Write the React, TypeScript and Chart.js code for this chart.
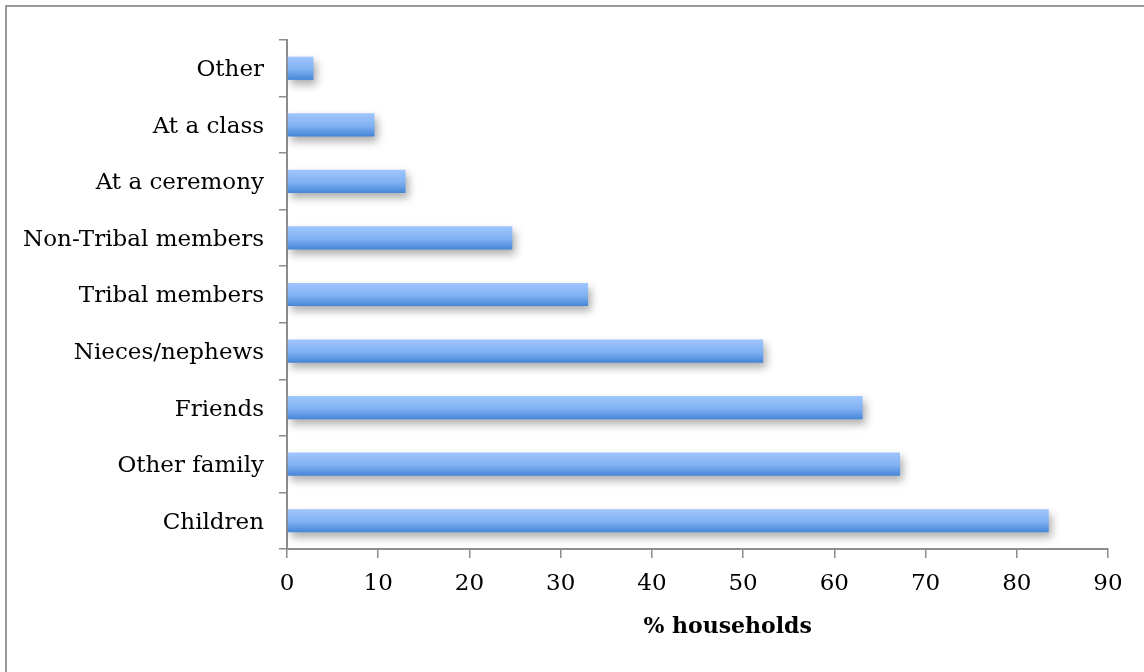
import React, { useEffect, useRef } from "react";
import { Chart, registerables } from "chart.js";

Chart.register(...registerables);

const categories: string[] = [
  "Other",
  "At a class",
  "At a ceremony",
  "Non-Tribal members",
  "Tribal members",
  "Nieces/nephews",
  "Friends",
  "Other family",
  "Children",
];
const householdPct: number[] = [2.9, 9.6, 13.0, 24.7, 33.0, 52.2, 63.1, 67.2, 83.5];
const xTickMin = 0;
const xTickMax = 90;
const xTickStep = 10;
const xAxisTitle = "% households";

const FONT = "'DejaVu Serif', 'Liberation Serif', serif";

export default function App() {
  const ref = useRef<HTMLCanvasElement | null>(null);

  useEffect(() => {
    if (!ref.current) return;
    const shadowPlugin = {
      id: "barShadow",
      beforeDatasetsDraw(chart: any) {
        const c = chart.ctx;
        c.save();
        c.shadowColor = "rgba(0,0,0,0.32)";
        c.shadowBlur = 8;
        c.shadowOffsetX = 3;
        c.shadowOffsetY = 5;
      },
      afterDatasetsDraw(chart: any) {
        chart.ctx.restore();
      },
    };
    const titlePlugin = {
      id: "xTitle",
      afterDraw(chart: any) {
        const c = chart.ctx;
        const xs = chart.scales.x;
        c.save();
        c.font = `bold 22px ${FONT}`;
        c.fillStyle = "#000";
        c.textAlign = "center";
        c.textBaseline = "middle";
        c.fillText(xAxisTitle, xs.getPixelForValue(48.3), 627);
        c.restore();
      },
    };

    const chart = new Chart(ref.current, {
      type: "bar",
      data: {
        labels: categories,
        datasets: [
          {
            data: householdPct,
            backgroundColor: (ctx: any) => {
              const ch = ctx.chart;
              const ys = ch.scales?.y;
              if (!ys || ctx.dataIndex === undefined) return "#7aa9ee";
              const yc = ys.getPixelForValue(ctx.dataIndex);
              const band = Math.abs(ys.getPixelForValue(1) - ys.getPixelForValue(0));
              if (!isFinite(yc) || !isFinite(band) || band <= 0) return "#7aa9ee";
              const h = band * 0.41;
              const g = ch.ctx.createLinearGradient(0, yc - h / 2, 0, yc + h / 2);
              g.addColorStop(0, "#a0c6fd");
              g.addColorStop(0.55, "#80b1f2");
              g.addColorStop(1, "#4485d8");
              return g;
            },
            borderWidth: 0,
            barPercentage: 0.41,
            categoryPercentage: 1,
          },
        ],
      },
      options: {
        indexAxis: "y",
        animation: false,
        responsive: false,
        maintainAspectRatio: false,
        layout: { padding: { left: 0, right: 36, top: 40, bottom: 0 } },
        plugins: { legend: { display: false }, tooltip: { enabled: false } },
        scales: {
          x: {
            type: "linear",
            min: xTickMin,
            max: xTickMax,
            ticks: {
              stepSize: xTickStep,
              color: "#000",
              font: { family: FONT, size: 23 },
              padding: 12,
            },
            grid: {
              display: true,
              drawOnChartArea: false,
              drawTicks: true,
              tickLength: 9,
              color: "#8c8c8c",
              lineWidth: 1.5,
            },
            border: { display: true, color: "#8c8c8c", width: 2 },
            title: { display: false },
            afterFit: (s: any) => {
              s.height = 123;
            },
          },
          y: {
            type: "category",
            ticks: {
              color: "#000",
              font: { family: FONT, size: 23 },
              padding: 15,
              labelOffset: 2,
            },
            grid: {
              display: true,
              offset: true,
              drawOnChartArea: false,
              drawTicks: true,
              tickLength: 8,
              color: "#8c8c8c",
              lineWidth: 1.5,
            },
            border: { display: true, color: "#8c8c8c", width: 2 },
            afterFit: (s: any) => {
              s.width = 287;
            },
          },
        },
      },
      plugins: [shadowPlugin, titlePlugin],
    } as any);
    return () => chart.destroy();
  }, []);

  return (
    <div
      style={{
        position: "fixed",
        left: 0,
        top: 0,
        width: 1144,
        height: 672,
        overflow: "hidden",
        background: "#fff",
      }}
    >
      <div
        style={{
          position: "absolute",
          left: 5,
          top: 5,
          width: 1200,
          height: 700,
          borderLeft: "2px solid #9a9a9a",
          borderTop: "2px solid #9a9a9a",
        }}
      />
      <canvas
        ref={ref}
        width={1144}
        height={672}
        style={{ position: "absolute", left: 0, top: 0, width: 1144, height: 672 }}
      />
    </div>
  );
}
